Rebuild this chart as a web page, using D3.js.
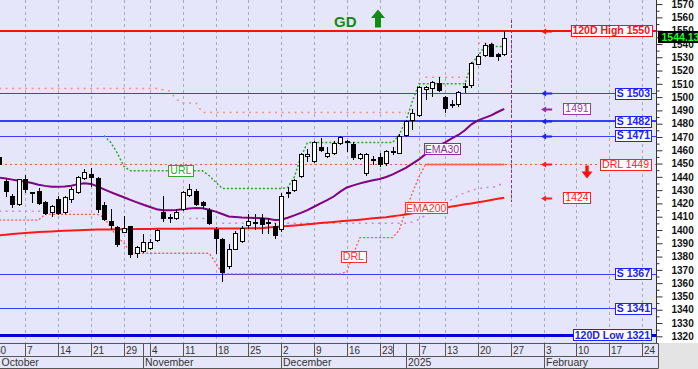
<!DOCTYPE html>
<html>
<head>
<meta charset="utf-8">
<script src="https://cdn.jsdelivr.net/npm/d3@7"></script>
<style>
  body { margin: 0; background: #fff; }
  svg { display: block; font-family: "Liberation Sans", Arial, sans-serif; }
</style>
</head>
<body>
<svg width="698" height="369"></svg>
<script>
// ---- data ----
var holidays = ['2024-10-28', '2024-12-24', '2024-12-25', '2024-12-26', '2025-01-01', '2025-01-06'];
var firstCandle = '2024-10-01';

var open = [1454.8,1436.9,1425.7,1419.4, 1438.2,1428.4,1429.4,1420.9,1413.4, 1423.2,1413.4,1423.2,1428.7,1439.5,
  1442.0,1438.8,1418.6,1406.8,1402.1, 1398.5,1402.8,1382.5,1384.2, 1386.8,1392.5,1413.6,1409.5,1409.4,
  1415.6,1426.9,1429.4,1420.7,1415.1, 1400.6,1393.0,1373.5,1386.0,1391.8, 1403.6,1405.7,1409.4,1405.8,1403.1,
  1400.6,1428.0,1429.9,1440.7,1455.5, 1451.6,1462.5,1455.8,1457.6,1465.6, 1467.2,1464.6,1454.0,1442.5,1453.4,
  1454.6,1450.0, 1458.8,1458.3, 1471.6,1482.6, 1486.6,1506.0,1506.7,1510.3, 1500.2,1494.8,1494.2,1508.4,1508.5,
  1525.4,1531.8,1539.9,1532.3,1532.3];
var high = [1457.0,1438.7,1426.9,1438.7, 1441.2,1428.6,1431.4,1421.9,1418.6, 1425.4,1425.4,1432.2,1440.7,1445.8,
  1446.3,1439.7,1420.7,1415.6,1403.1, 1410.6,1403.1,1388.0,1396.8, 1393.0,1400.6,1425.6,1411.9,1415.6,
  1429.4,1434.5,1430.7,1421.9,1416.4, 1402.1,1394.3,1389.3,1399.1,1403.1, 1411.9,1411.9,1411.9,1409.4,1405.6,
  1428.2,1432.0,1438.2,1458.3,1460.8, 1467.1,1469.1,1462.3,1467.1,1470.8, 1467.4,1465.9,1458.3,1458.3,1455.8,
  1458.3,1460.0, 1462.1,1472.1, 1482.6,1490.9, 1508.5,1508.5,1512.2,1515.3, 1501.0,1497.7,1504.7,1510.3,1526.1,
  1532.4,1540.4,1540.4,1532.9,1550.0];
var low = [1447.3,1425.6,1417.1,1418.6, 1428.4,1421.0,1419.4,1411.9,1410.6, 1411.9,1412.6,1420.9,1428.2,1438.7,
  1433.2,1413.4,1407.6,1400.6,1388.0, 1398.3,1379.5,1379.5,1383.5, 1386.0,1391.8,1406.8,1406.1,1408.1,
  1415.1,1425.6,1418.6,1416.4,1404.4, 1383.0,1361.6,1371.7,1385.5,1390.6, 1401.8,1400.6,1398.1,1398.1,1394.3,
  1399.3,1424.5,1429.4,1440.0,1452.0, 1450.8,1459.5,1455.0,1457.0,1464.6, 1459.5,1453.3,1453.3,1441.5,1449.5,
  1448.3,1449.0, 1457.0,1457.6, 1470.8,1475.9, 1485.9,1498.5,1501.0,1504.7, 1488.5,1492.7,1493.4,1503.5,1507.7,
  1524.8,1531.1,1531.1,1527.8,1531.8];
var close = [1449.5,1429.4,1419.4,1438.2, 1430.7,1427.6,1420.7,1412.6,1417.9, 1412.6,1424.7,1430.7,1439.7,1443.7,
  1440.1,1415.6,1408.1,1403.6,1389.3, 1401.3,1381.7,1387.0,1390.8, 1391.0,1399.8,1409.4,1409.2,1413.6,
  1428.7,1431.2,1419.4,1418.1,1405.1, 1393.6,1367.9,1386.0,1398.1,1401.8, 1406.8,1405.5,1405.1,1405.5,1396.1,
  1425.6,1428.4,1437.5,1457.0,1457.0, 1465.9,1460.0,1458.3,1465.1,1470.1, 1466.8,1454.6,1457.0,1457.0,1453.1,
  1449.5,1459.1, 1459.1,1470.8, 1482.1,1487.7, 1507.7,1507.7,1511.0,1505.2, 1492.2,1494.6,1503.5,1508.7,1525.4,
  1531.1,1539.4,1531.1,1531.1,1544.13];

var ema30 = [1439.5,1438.7,1437.9,1437.1,1436.3,1435.4,1434.0,1433.2,1432.6,1432.5,
  1432.8,1433.3,1434.5,1435.1,1434.7,1432.8,1430.6,1428.5,1426.5,1424.6,
  1422.7,1420.8,1419.0,1417.3,1415.6,1414.9,1414.9,1415.1,1415.6,1416.1,
  1416.5,1416.3,1415.2,1413.8,1412.0,1410.2,1409.8,1409.4,1409.2,1409.0,
  1408.8,1408.5,1407.6,1407.8,1409.2,1411.0,1412.9,1415.0,1417.5,1420.1,
  1422.5,1425.2,1428.9,1432.0,1433.6,1435.1,1436.3,1437.5,1438.4,1439.9,
  1441.8,1444.3,1446.7,1449.9,1453.1,1457.1,1460.4,1463.6,1466.0,1469.0,
  1471.5,1475.0,1479.5,1482.5,1484.4,1486.3,1488.8,1491.2];
var ema200 = [1396.0,1396.5,1397.0,1397.3,1397.7,1398.1,1398.4,1398.7,1398.9,1399.2,
  1399.4,1399.6,1399.8,1400.0,1400.2,1400.3,1400.4,1400.4,1400.5,1400.6,
  1400.6,1400.7,1400.8,1400.8,1400.9,1400.9,1401.0,1401.0,1401.0,1401.1,
  1401.1,1401.1,1401.1,1401.2,1401.2,1401.2,1401.2,1401.2,1401.3,1401.3,
  1401.4,1401.8,1402.2,1402.6,1403.0,1403.4,1403.8,1404.3,1404.7,1405.2,
  1405.6,1406.0,1406.5,1406.9,1407.3,1407.8,1408.3,1408.8,1409.2,1409.6,
  1410.3,1411.0,1411.7,1412.5,1413.3,1414.2,1415.1,1416.0,1416.8,1417.6,
  1418.5,1419.3,1420.0,1420.8,1421.7,1422.6,1423.5,1424.3];

// green trailing line (URL)
var url = [null,null,null,null,null,null,null,null,null,null,null,null,null,null,null,null,
  1471,1466,1458,1448,
  1444.5,1444.5,1444.5,1444.5,1444.5,1444.5,1444.5,1444.5,1444.5,1444.5,1444.5,1444.5,
  1441,1436,
  1431.3,1431.3,1431.3,1431.3,1431.3,1431.3,1431.3,1431.3,1431.3,1431.3,
  1432,1440,1455,
  1465.8,1465.8,1465.8,1465.8,1465.8,1465.8,1465.8,1465.8,1465.8,1465.8,1465.8,1465.8,1465.8,1465.8,
  1472,1482,1497,
  1510,1510,1510,1510,1510,1510,1510,1510,
  1525,1531,1538,1538,1538,1538];
// red trailing line (DRL)
var drl = [1407.5,1407.5,1407.5,1407.5,1407.5,1407.5,1407.5,
  1411.8,1411.8,1411.8,1411.8,1411.8,1411.8,1411.8,1411.8,1411.8,
  1409.5,1402,1394.3,1390.5,1383,
  1382.5,1382.5,1382.5,1382.5,1382.5,1382.5,1382.5,1382.5,1382.5,1382.5,1382.5,1382.5,
  1375.5,
  1367,1367,1367,1367,1367,1367,1367,1367,1367,1367,1367,1367,1367,1367,1367,1367,1367,1367,1367,
  1368.5,1382,
  1394.3,1394.3,1394.3,1394.3,1394.3,1394.3,
  1400,1415,1428,1440,
  1449.3,1449.3,1449.3,1449.3,1449.3,1449.3,1449.3,1449.3,1449.3,1449.3,1449.3,1449.3,1449.3];
// pink dotted upper line
var resist = [1506.5,1506.5,1506.5,1506.5,1506.5,1506.5,1506.5,1506.5,1506.5,1506.5,
  1506.5,1506.5,1506.5,1506.5,1506.5,1506.5,1506.5,1506.5,1506.5,1506.5,
  1506.5,1506.5,1506.5,1506.5,1506.5,
  1505.5,1504.5,1498.5,1495.5,1495.5,1495.5,
  1488.4,1488.4,1488.4,1488.4,1488.4,1488.4,1488.4,1488.4,1488.4,1488.4,1488.4,1488.4,1488.4,1488.4,1488.4,1488.4,
  1488.4,1488.4,1488.4,1488.4,1488.4,1488.4,1488.4,1488.4,1488.4,1488.4,1488.4,1488.4,1488.4,1488.4,1488.4,1488.4,
  null,null,
  1515,1515,1515,1515,1515,1515,1515,
  null,
  1540.5,1540.5,1540.5,1540.5,
  null];
// lilac dotted lower line
var trail = [1414.2,1414.2,1414.2,1414.2,1414.2,1414.2,1414.2,1414.2,1414.2,1414.2,1414.2,1414.2,
  null,null,null,null,null,null,null,null,null,null,null,null,null,null,null,null,null,
  1408.6,1408.6,1408.6,1408.6,
  null,
  1405.1,1405.1,1405.1,1405.1,1405.1,1405.1,1405.1,1405.1,1405.1,1405.1,1405.1,1405.1,1405.1,1405.1,1405.1,
  1405.1,1405.1,1405.1,1405.1,1405.1,1405.1,1405.1,1405.1,1405.1,1405.1,1405.1,1405.1,1405.1,1405.1,
  1406,1408,1411,1414,1417,1420,1423,1426,1428,1430,1431,1432,1432,1433,1436];

var levels = [1550, 1503, 1482, 1471, 1367, 1341, 1321];
var levelNames = ['120D High 1550', 'S 1503', 'S 1482', 'S 1471', 'S 1367', 'S 1341', '120D Low 1321'];
var levelKinds = ['high', 'sup', 'supBold', 'sup', 'sup', 'sup', 'low'];

var yTicks = [1320,1330,1340,1350,1360,1370,1380,1390,1400,1410,1420,1430,1440,
  1450,1460,1470,1480,1490,1500,1510,1520,1530,1540,1550,1560,1570];
var weekTicks = ['2024-09-30','2024-10-07','2024-10-14','2024-10-21','2024-10-29','2024-11-04','2024-11-11',
  '2024-11-18','2024-11-25','2024-12-02','2024-12-09','2024-12-16','2024-12-23','2024-12-30','2025-01-07',
  '2025-01-13','2025-01-20','2025-01-27','2025-02-03','2025-02-10','2025-02-17','2025-02-24'];
var weekLabels = ['30','7','14','21','29','4','11','18','25','2','9','16','23','','7','13','20','27','3','10','17','24'];
var monthStarts = ['2024-10-01','2024-11-01','2024-12-02','2025-01-02','2025-02-03'];
var monthNames = ['October','November','December','2025','February'];

// ---- trading calendar ----
var tradingDays = [];
for (var d = new Date(Date.UTC(2024, 8, 30)); d <= new Date(Date.UTC(2025, 1, 28)); d.setUTCDate(d.getUTCDate() + 1)) {
  var s = d.toISOString().slice(0, 10);
  if (d.getUTCDay() === 0 || d.getUTCDay() === 6 || holidays.indexOf(s) >= 0) continue;
  tradingDays.push(s);
}
var dayIndex = function(s) { return tradingDays.indexOf(s); };
var off = dayIndex(firstCandle);
var lastIdx = off + close.length - 1;

// ---- layout ----
var svg = d3.select('svg');
var plotR = 656, plotB = 343, axisR = 658.5;
var bg = '#e6e6fa';

var x = d3.scaleLinear().domain([0, 99]).range([-7.4, 642]);
var y = d3.scaleLinear().domain([1320, 1570]).range([336.3, 4.1]);
var px = function(i) { return Math.round(x(i)) + 0.5; };
var py = function(v) { return Math.round(y(v)) + 0.5; };

svg.append('rect').attr('width', 698).attr('height', 369).attr('fill', '#fff');
svg.append('rect').attr('x', axisR).attr('y', plotB).attr('width', 698 - axisR).attr('height', 369 - plotB).attr('fill', '#e4e4e4');
svg.append('rect').attr('width', plotR).attr('height', plotB).attr('fill', bg);

svg.append('defs').append('clipPath').attr('id', 'plotclip')
  .append('rect').attr('width', plotR).attr('height', plotB);
var plot = svg.append('g').attr('clip-path', 'url(#plotclip)');

// vertical grid at labelled week ticks
plot.selectAll('line.grid')
  .data(weekTicks.filter(function(t, k) { return weekLabels[k] !== ''; }))
  .enter().append('line')
  .attr('class', 'grid')
  .attr('x1', function(t) { return px(dayIndex(t)); })
  .attr('x2', function(t) { return px(dayIndex(t)); })
  .attr('y1', 0).attr('y2', plotB)
  .attr('stroke', '#ababb8').attr('stroke-dasharray', '3,3');

// horizontal levels
var levelStyle = {
  high: { c: '#ff1010', w: 2 },
  sup: { c: '#3c3cff', w: 1 },
  supBold: { c: '#3c3cff', w: 2 },
  low: { c: '#0000dd', w: 3 }
};
plot.selectAll('line.level').data(levels).enter().append('line')
  .attr('class', 'level')
  .attr('x1', 0).attr('x2', plotR)
  .attr('y1', function(v, k) { return levelStyle[levelKinds[k]].w % 2 ? py(v) : Math.round(y(v)); })
  .attr('y2', function(v, k) { return levelStyle[levelKinds[k]].w % 2 ? py(v) : Math.round(y(v)); })
  .attr('stroke', function(v, k) { return levelStyle[levelKinds[k]].c; })
  .attr('stroke-width', function(v, k) { return levelStyle[levelKinds[k]].w; });

var drlLast = drl[drl.length - 1];
plot.append('line')
  .attr('x1', 0).attr('x2', plotR).attr('y1', py(drlLast)).attr('y2', py(drlLast))
  .attr('stroke', '#ff4a4a').attr('stroke-dasharray', '2,3');

// indicator lines
var lineGen = d3.line()
  .defined(function(v) { return v != null; })
  .x(function(v, k) { return x(k + off); })
  .y(function(v) { return y(v); });

plot.append('path').attr('d', lineGen(resist)).attr('fill', 'none')
  .attr('stroke', '#ff8c8c').attr('stroke-width', 1.5).attr('stroke-dasharray', '2,4.5');
plot.append('path').attr('d', lineGen(trail)).attr('fill', 'none')
  .attr('stroke', '#c88ad8').attr('stroke-width', 1.5).attr('stroke-dasharray', '2,4.5');
plot.append('path').attr('d', lineGen(drl)).attr('fill', 'none')
  .attr('stroke', '#ff5a5a').attr('stroke-width', 1.3).attr('stroke-dasharray', '2,2');
var drlFlatFrom = 65;
plot.append('path').attr('d', lineGen(drl.map(function(v, k) { return k >= drlFlatFrom ? v : null; })))
  .attr('fill', 'none').attr('stroke', '#ff5a5a').attr('stroke-width', 1.5);
plot.append('path').attr('d', lineGen(url)).attr('fill', 'none')
  .attr('stroke', '#2fa52f').attr('stroke-width', 1.5).attr('stroke-dasharray', '2,2');

plot.append('path').attr('d', lineGen(ema200)).attr('fill', 'none')
  .attr('stroke', '#ff1a1a').attr('stroke-width', 2);
plot.append('path').attr('d', lineGen(ema30)).attr('fill', 'none')
  .attr('stroke', '#800080').attr('stroke-width', 2);

// candles
var candles = close.map(function(c, k) {
  return { i: k + off, o: open[k], h: high[k], l: low[k], c: c };
});
var cg = plot.selectAll('g.candle').data(candles).enter().append('g').attr('class', 'candle');
cg.append('line')
  .attr('x1', function(d) { return px(d.i); }).attr('x2', function(d) { return px(d.i); })
  .attr('y1', function(d) { return Math.round(y(d.h)); })
  .attr('y2', function(d) { return Math.round(y(d.l)) + 1; })
  .attr('stroke', '#000');
cg.append('rect')
  .attr('x', function(d) { return px(d.i) - 2; })
  .attr('width', 4)
  .attr('y', function(d) { return py(Math.max(d.o, d.c)); })
  .attr('height', function(d) { return Math.max(1, Math.round(y(Math.min(d.o, d.c)) - y(Math.max(d.o, d.c)))); })
  .attr('fill', function(d) { return d.c >= d.o ? '#fff' : '#000'; })
  .attr('stroke', '#000');

// today marker
plot.append('line')
  .attr('x1', px(lastIdx + 1)).attr('x2', px(lastIdx + 1))
  .attr('y1', 20).attr('y2', 202)
  .attr('stroke', '#8e2c9e').attr('stroke-dasharray', '3,2');

// in-chart labels
var boxLabel = function(g, cx, cy, text, color, anchor, bold, pad) {
  var t = g.append('text').attr('x', cx).attr('y', cy + 3.6)
    .attr('text-anchor', anchor).attr('font-size', 10.5)
    .attr('font-weight', bold ? 'bold' : 'normal').attr('fill', color).text(text);
  var w = t.node().getComputedTextLength();
  var left = anchor === 'end' ? cx - w : anchor === 'middle' ? cx - w / 2 : cx;
  g.insert('rect', function() { return t.node(); })
    .attr('x', Math.round(left - pad) + 0.5).attr('y', Math.round(cy - 5.5) + 0.5)
    .attr('width', Math.round(w + 2 * pad)).attr('height', 11)
    .attr('fill', '#fff').attr('stroke', color);
};

var ann = svg.append('g');
boxLabel(ann, x(28.7), y(1444.5), 'URL', '#3aa03a', 'middle', false, 2);
boxLabel(ann, x(68.5), y(1461), 'EMA30', '#8e2c9e', 'middle', false, 1);
boxLabel(ann, x(66.1), y(1416.6), 'EMA200', '#ff3030', 'middle', false, 1);
boxLabel(ann, x(55), y(1380.4), 'DRL', '#ff3030', 'middle', false, 2);

// right side tags
var tagRight = 650;
levels.forEach(function(v, k) {
  var st = levelStyle[levelKinds[k]];
  boxLabel(ann, tagRight, y(v), levelNames[k], levelKinds[k] === 'high' ? '#ff1010' : '#2020ff', 'end', true, 1.5);
});
boxLabel(ann, tagRight - 1, y(drlLast), 'DRL ' + Math.round(drlLast), '#ff2020', 'end', false, 2);
var emaTagX = 577;
boxLabel(ann, emaTagX, y(ema30[ema30.length - 1]), String(Math.round(ema30[ema30.length - 1])), '#9a3aa8', 'middle', false, 2);
boxLabel(ann, emaTagX, y(ema200[ema200.length - 1]), String(Math.round(ema200[ema200.length - 1])), '#ff2020', 'middle', false, 2);

// small left arrows
var arrowVals = [1550, 1503, ema30[ema30.length - 1], 1482, 1471, drlLast, ema200[ema200.length - 1]];
var arrowCols = ['#ff1010', '#2020ff', '#8e2c9e', '#2020ff', '#2020ff', '#ff2020', '#ff2020'];
var ax = x(84) - 2.5;
ann.selectAll('path.arrow').data(arrowVals).enter().append('path')
  .attr('class', 'arrow')
  .attr('d', function(v) {
    var cy = Math.round(y(v)) + 0.5;
    return 'M' + ax + ',' + cy + 'L' + (ax + 5) + ',' + (cy - 3) + 'L' + (ax + 5) + ',' + (cy - 1) +
      'L' + (ax + 11) + ',' + (cy - 1) + 'L' + (ax + 11) + ',' + (cy + 1) + 'L' + (ax + 5) + ',' + (cy + 1) +
      'L' + (ax + 5) + ',' + (cy + 3) + 'Z';
  })
  .attr('fill', function(v, k) { return arrowCols[k]; });

// big red down arrow under DRL tag
var dx = 587, dy = y(drlLast);
ann.append('path')
  .attr('d', 'M' + (dx - 1.7) + ',' + (dy + 1) + 'L' + (dx + 1.7) + ',' + (dy + 1) + 'L' + (dx + 1.7) + ',' + (dy + 7) +
    'L' + (dx + 5.5) + ',' + (dy + 7) + 'L' + dx + ',' + (dy + 14) + 'L' + (dx - 5.5) + ',' + (dy + 7) +
    'L' + (dx - 1.7) + ',' + (dy + 7) + 'Z')
  .attr('fill', '#ff1010');

// GD signal
ann.append('text').attr('x', 334).attr('y', 26.5).attr('font-size', 15).attr('font-weight', 'bold')
  .attr('fill', '#138a13').text('GD');
ann.append('path')
  .attr('d', 'M378,9.5L385,18L381,18L381,27.5L375,27.5L375,18L371,18Z')
  .attr('fill', '#138a13');

// ---- right price axis ----
svg.append('line').attr('x1', plotR + 0.5).attr('x2', plotR + 0.5).attr('y1', 0).attr('y2', plotB)
  .attr('stroke', '#333');
var yAxis = d3.axisRight(y).tickValues(yTicks).tickSize(6).tickPadding(9).tickFormat(d3.format('d'));
var gy = svg.append('g').attr('transform', 'translate(' + (plotR + 0.5) + ',0)').call(yAxis);
gy.select('.domain').remove();
gy.selectAll('text').attr('font-size', 10).attr('font-weight', 'bold').attr('fill', '#111')
  .attr('font-family', '"Liberation Sans", Arial, sans-serif');
gy.selectAll('line').attr('stroke', '#333');
var gyMinor = svg.append('g').attr('transform', 'translate(' + (plotR + 0.5) + ',0)')
  .call(d3.axisRight(y).tickValues(yTicks.slice(1).map(function(v) { return v - 5; })).tickSize(3).tickFormat(''));
gyMinor.select('.domain').remove();
gyMinor.selectAll('line').attr('stroke', '#333');

// current price
var lastClose = close[close.length - 1];
var cpy = y(lastClose) - 1;
svg.append('rect').attr('x', 658).attr('y', Math.round(cpy - 6)).attr('width', 40).attr('height', 12).attr('fill', '#000');
svg.append('text').attr('x', 661.5).attr('y', cpy + 4).attr('font-size', 10.5).attr('font-weight', 'bold')
  .attr('fill', '#22ff22').text(lastClose.toFixed(2));

// ---- date axis ----
var aTop = 343.5, aMid = 356.5, aBot = 368.5;
var gx = svg.append('g');
gx.append('rect').attr('x', 0).attr('y', aTop).attr('width', axisR).attr('height', aBot - aTop).attr('fill', bg);
gx.selectAll('line.hl').data([aTop, aMid, aBot]).enter().append('line')
  .attr('x1', 0).attr('x2', axisR).attr('y1', function(v) { return v; }).attr('y2', function(v) { return v; })
  .attr('stroke', '#555');
gx.append('line').attr('x1', axisR).attr('x2', axisR).attr('y1', aTop).attr('y2', aBot).attr('stroke', '#555');
gx.selectAll('line.wk').data(weekTicks).enter().append('line')
  .attr('x1', function(t) { return px(dayIndex(t)); }).attr('x2', function(t) { return px(dayIndex(t)); })
  .attr('y1', aTop).attr('y2', aMid).attr('stroke', '#555');
gx.selectAll('text.wk').data(weekTicks).enter().append('text')
  .attr('x', function(t) { return px(dayIndex(t)) + 1.5; })
  .attr('y', aMid - 2.5)
  .attr('font-size', 10).attr('fill', '#333')
  .text(function(t, k) { return weekLabels[k]; });
gx.selectAll('line.mo').data(monthStarts).enter().append('line')
  .attr('x1', function(t) { return px(dayIndex(t)); }).attr('x2', function(t) { return px(dayIndex(t)); })
  .attr('y1', aTop).attr('y2', aBot).attr('stroke', '#555');
gx.selectAll('text.mo').data(monthStarts).enter().append('text')
  .attr('x', function(t) { return Math.max(0, px(dayIndex(t))) + 1.5; })
  .attr('y', aBot - 2.5)
  .attr('font-size', 10.5).attr('fill', '#333')
  .text(function(t, k) { return monthNames[k]; });
</script>
</body>
</html>
